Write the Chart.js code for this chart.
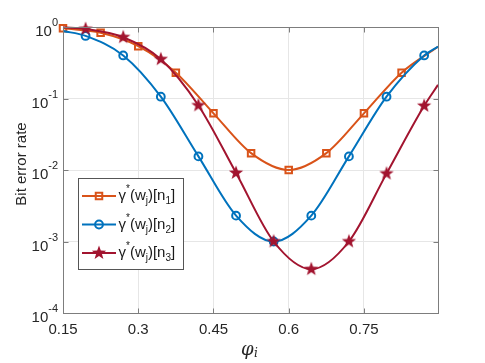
<!DOCTYPE html>
<html>
<head>
<meta charset="utf-8">
<script src="https://cdn.jsdelivr.net/npm/chart.js@4.4.0/dist/chart.umd.min.js"></script>
<style>
  html, body { margin: 0; padding: 0; background: #fff; }
</style>
</head>
<body>
<canvas id="berChart" width="485" height="363"></canvas>
<script>
// axis ticks
const xTicks = [0.15, 0.3, 0.45, 0.6, 0.75];
const yTicks = [1e-4, 1e-3, 1e-2, 1e-1, 1];

// gamma*(w_j)[n1] : markers every 0.075, last point is the curve end
const xN1 = [0.15, 0.225, 0.3, 0.375, 0.45, 0.525, 0.6, 0.675, 0.75, 0.825, 0.8976];
const berN1 = [0.96, 0.83, 0.54, 0.23, 0.062, 0.0172, 0.010, 0.0172, 0.062, 0.23, 0.53];

// n2 and n3 share the same x positions (first and last point carry no marker)
const xN23 = [0.15, 0.195, 0.27, 0.345, 0.42, 0.495, 0.57, 0.645, 0.72, 0.795, 0.87, 0.8976];
const berN2 = [0.88, 0.75, 0.40, 0.106, 0.0155, 0.0023, 0.0010, 0.0023, 0.0155, 0.106, 0.40, 0.53];
const berN3 = [0.99, 0.94, 0.72, 0.354, 0.080, 0.0091, 0.0010, 0.00041, 0.0010, 0.0089, 0.079, 0.155];

const seriesIdx = ["1", "2", "3"];

const FONT = '"Liberation Sans", Arial, sans-serif';
const colors = ["#D95319", "#0072BD", "#A2142F"];

function makeStar(color, R, r) {
  const s = 18;
  const c = document.createElement("canvas");
  c.width = s; c.height = s;
  const g = c.getContext("2d");
  g.translate(s / 2, s / 2);
  g.beginPath();
  for (let k = 0; k < 10; k++) {
    const rad = k % 2 === 0 ? R : r;
    const a = -Math.PI / 2 + k * Math.PI / 5;
    g.lineTo(rad * Math.cos(a), rad * Math.sin(a));
  }
  g.closePath();
  g.fillStyle = color;
  g.fill();
  return c;
}
const star = makeStar(colors[2], 7.5, 3.1);

function toPoints(xs, ys) {
  return xs.map((x, i) => ({ x: x, y: ys[i] }));
}

// marker size, hidden on unmarked curve ends
function radius(r, skipFirst) {
  return function (ctx) {
    const n = ctx.dataset.data.length;
    if (ctx.dataIndex === n - 1) return 0;
    if (skipFirst && ctx.dataIndex === 0) return 0;
    return r;
  };
}

const decor = {
  id: "decor",
  afterDraw(chart) {
    const ctx = chart.ctx;
    const a = chart.chartArea;
    const xs = chart.scales.x, ys = chart.scales.y;
    ctx.save();

    // box + inward ticks
    ctx.strokeStyle = "#7d7d7d";
    ctx.lineWidth = 1;
    const L = a.left + 0.5, R = a.right + 0.5, T = a.top + 0.5, B = a.bottom + 0.5;
    ctx.strokeRect(L, T, R - L, B - T);
    ctx.beginPath();
    xTicks.forEach(v => {
      const px = Math.round(xs.getPixelForValue(v)) + 0.5;
      ctx.moveTo(px, B); ctx.lineTo(px, B - 5);
      ctx.moveTo(px, T); ctx.lineTo(px, T + 5);
    });
    yTicks.forEach(v => {
      const py = Math.round(ys.getPixelForValue(v)) + 0.5;
      ctx.moveTo(L, py); ctx.lineTo(L + 5, py);
      ctx.moveTo(R, py); ctx.lineTo(R - 5, py);
    });
    ctx.stroke();

    // y tick labels 10^k
    ctx.fillStyle = "#262626";
    ctx.textBaseline = "alphabetic";
    ctx.textAlign = "left";
    yTicks.forEach(v => {
      const py = ys.getPixelForValue(v);
      const e = Math.round(Math.log10(v));
      const expTxt = e < 0 ? "-" + Math.abs(e) : String(e);
      ctx.font = "11px " + FONT;
      const ew = ctx.measureText(expTxt).width;
      ctx.font = "15px " + FONT;
      const bw = ctx.measureText("10").width;
      const right = 58;
      ctx.fillText("10", right - ew - bw, py + 9);
      ctx.font = "11px " + FONT;
      ctx.fillText(expTxt, right - ew, py - 1);
    });

    // y title
    ctx.save();
    ctx.translate(26, 164);
    ctx.rotate(-Math.PI / 2);
    ctx.textAlign = "center";
    ctx.font = "15px " + FONT;
    ctx.fillText("Bit error rate", 0, 0);
    ctx.restore();

    // x title phi_i
    ctx.font = 'italic 18px "DejaVu Serif", serif';
    ctx.fillText("φ", 241, 355);
    const pw = ctx.measureText("φ").width;
    ctx.font = 'italic 12px "DejaVu Serif", serif';
    ctx.fillText("i", 241 + pw + 0.5, 357);

    // legend
    const bx = 78, by = 178, bw2 = 105, bh = 91;
    ctx.fillStyle = "#fff";
    ctx.fillRect(bx, by, bw2, bh);
    ctx.strokeStyle = "#555";
    ctx.strokeRect(bx + 0.5, by + 0.5, bw2, bh);
    const rows = [196, 224.5, 253];
    chart.data.datasets.slice().sort((p, q) => p.legendRank - q.legendRank).forEach((ds, i) => {
      const yy = rows[i];
      ctx.strokeStyle = ds.borderColor;
      ctx.lineWidth = 2;
      ctx.beginPath();
      ctx.moveTo(82, yy); ctx.lineTo(116, yy);
      ctx.stroke();
      ctx.fillStyle = "rgba(0,0,0,0)";
      Chart.helpers.drawPoint(ctx, {
        pointStyle: ds.pointStyle,
        radius: ds.legendRadius,
        borderWidth: 2
      }, 99, yy);
      // label text
      ctx.fillStyle = "#1a1a1a";
      const parts = [
        { t: "γ" }, { t: "*", d: -8 }, { t: "(w" }, { t: "j", d: 4 },
        { t: ")[n" }, { t: seriesIdx[ds.legendRank], d: 4 }, { t: "]" }
      ];
      let x = 118.5;
      parts.forEach(p => {
        ctx.font = (p.d ? "10px " : "15px ") + FONT;
        ctx.fillText(p.t, x, yy + 4 + (p.d || 0));
        x += ctx.measureText(p.t).width;
      });
    });
    ctx.restore();
  }
};

new Chart(document.getElementById("berChart"), {
  type: "line",
  data: {
    datasets: [
      {
        label: "γ*(wj)[n3]",
        legendRank: 2,
        data: toPoints(xN23, berN3),
        borderColor: colors[2],
        backgroundColor: colors[2],
        borderWidth: 2,
        pointStyle: star,
        pointRadius: radius(7, true),
        legendRadius: 7,
        cubicInterpolationMode: "monotone",
        clip: false,
        order: 1
      },
      {
        label: "γ*(wj)[n2]",
        legendRank: 1,
        data: toPoints(xN23, berN2),
        borderColor: colors[1],
        backgroundColor: "rgba(0,0,0,0)",
        borderWidth: 2,
        pointStyle: "circle",
        pointRadius: radius(3.9, true),
        legendRadius: 3.9,
        pointBorderWidth: 2,
        cubicInterpolationMode: "monotone",
        clip: false,
        order: 2
      },
      {
        label: "γ*(wj)[n1]",
        legendRank: 0,
        data: toPoints(xN1, berN1),
        borderColor: colors[0],
        backgroundColor: "rgba(0,0,0,0)",
        borderWidth: 2,
        pointStyle: "rect",
        pointRadius: radius(4.6, false),
        legendRadius: 4.6,
        pointBorderWidth: 2,
        cubicInterpolationMode: "monotone",
        clip: false,
        order: 3
      }
    ]
  },
  options: {
    responsive: false,
    animation: false,
    devicePixelRatio: 1,
    events: [],
    layout: { padding: { top: 27, right: 47, left: 0, bottom: 0 } },
    plugins: { legend: { display: false }, tooltip: { enabled: false } },
    scales: {
      x: {
        type: "linear",
        min: 0.15,
        max: 0.8976,
        afterBuildTicks: s => { s.ticks = xTicks.map(v => ({ value: v })); },
        afterFit: s => { s.height = 50; },
        grid: { color: "#e6e6e6", drawTicks: false },
        border: { display: false },
        ticks: {
          autoSkip: false,
          maxRotation: 0,
          padding: 8,
          color: "#262626",
          font: { family: FONT, size: 15 },
          callback: v => String(v)
        }
      },
      y: {
        type: "logarithmic",
        min: 1e-4,
        max: 1,
        afterBuildTicks: s => { s.ticks = yTicks.map(v => ({ value: v })); },
        afterFit: s => { s.width = 63; },
        grid: { color: "#e6e6e6", drawTicks: false },
        border: { display: false },
        ticks: { display: false }
      }
    }
  },
  plugins: [decor]
});
</script>
</body>
</html>
